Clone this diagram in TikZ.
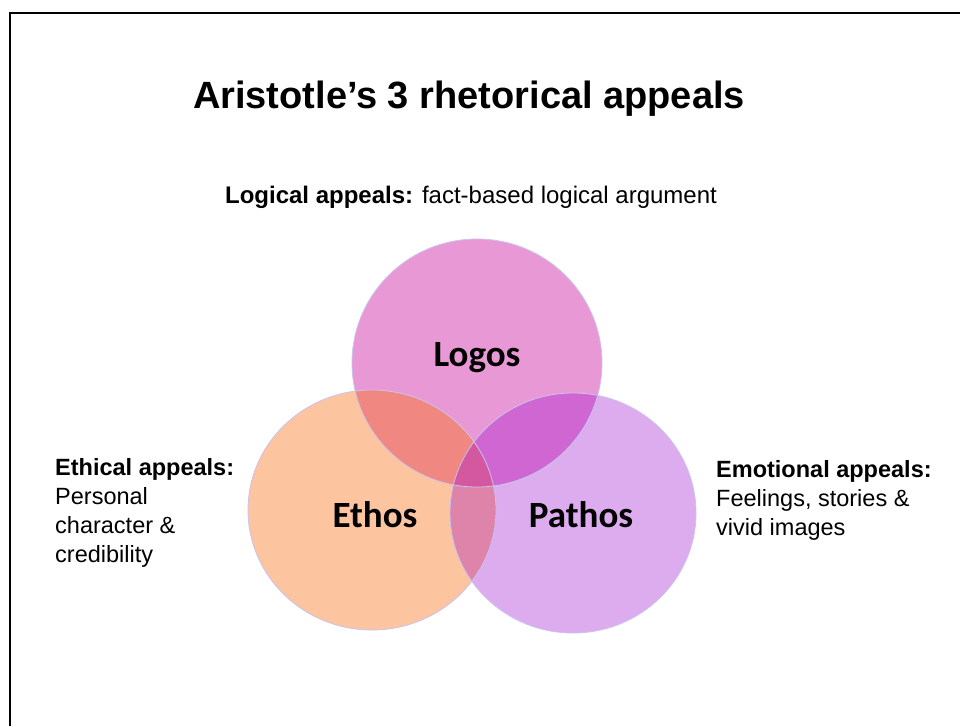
\documentclass[tikz,border=0pt]{standalone}
\usepackage{fontspec}
\usepackage{xcolor}
\usepackage{tikz}
\setmainfont{Liberation Sans}
\newfontfamily\calfont{Carlito}

\definecolor{logoscol}{HTML}{E899D5}
\definecolor{ethoscol}{HTML}{FDC4A0}
\definecolor{pathoscol}{HTML}{DCACEE}
\definecolor{lecol}{HTML}{F08780}
\definecolor{lpcol}{HTML}{CF66D2}
\definecolor{epcol}{HTML}{DE84AA}
\definecolor{allcol}{HTML}{D458A0}
\definecolor{rimcol}{HTML}{C9C3EE}

\begin{document}
\begin{tikzpicture}[x=1pt,y=-1pt,
	circlabel/.style={font=\calfont\bfseries\fontsize{37}{37}\selectfont},
	sidetext/.style={align=left,anchor=north west,inner sep=0pt,font=\fontsize{23.5}{29}\selectfont}]
	\useasboundingbox (0,0) rectangle (960,726);
	\def\logosshape{(logos) ellipse [x radius=125pt, y radius=124pt]}
	\def\ethosshape{(ethos) ellipse [x radius=124pt, y radius=120pt]}
	\def\pathosshape{(pathos) ellipse [x radius=123pt, y radius=120pt]}
	\coordinate (logos) at (477,363);
	\coordinate (ethos) at (372,510);
	\coordinate (pathos) at (573,513);

	\draw[line width=1.5pt] (10,726) -- (10,13) -- (960,13);

	\fill[logoscol] \logosshape;
	\fill[ethoscol] \ethosshape;
	\fill[pathoscol] \pathosshape;
	\begin{scope}
		\clip \logosshape;
		\fill[lecol] \ethosshape;
		\fill[lpcol] \pathosshape;
	\end{scope}
	\begin{scope}
		\clip \ethosshape;
		\fill[epcol] \pathosshape;
		\clip \pathosshape;
		\fill[allcol] \logosshape;
	\end{scope}
	\draw[rimcol,line width=0.8pt] \logosshape \ethosshape \pathosshape;

	\node (title) at (469,99) {\fontsize{38}{38}\selectfont\bfseries Aristotle’s 3 rhetorical appeals};
	\node (logical) at (471,197) {\fontsize{24}{24}\selectfont\textbf{Logical appeals:} fact-based logical argument};

	\node[circlabel] (logoslabel) at (477,358) {Logos};
	\node[circlabel] (ethoslabel) at (375,515) {Ethos};
	\node[circlabel] (pathoslabel) at (581,515) {Pathos};

	\node[sidetext] (ethical) at (55,458) {\textbf{Ethical appeals:}\\Personal\\character \&\\credibility};
	\node[sidetext] (emotional) at (716,460) {\textbf{Emotional appeals:}\\Feelings, stories \&\\vivid images};
\end{tikzpicture}
\end{document}
